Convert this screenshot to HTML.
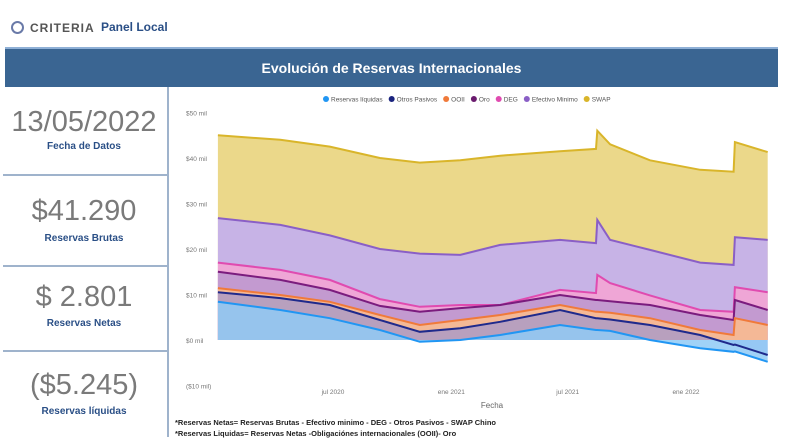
<!DOCTYPE html>
<html><head><meta charset="utf-8">
<style>
body{margin:0;width:800px;height:437px;background:#fff;font-family:"Liberation Sans",sans-serif;position:relative;overflow:hidden}
.abs{position:absolute}
.big{position:absolute;left:0;width:168px;text-align:center;color:#7a7a7a;font-size:29px;font-weight:300}
.lab{position:absolute;left:0;width:168px;text-align:center;color:#2a4f86;font-size:10px;font-weight:bold}
.hl{position:absolute;left:3px;width:164px;height:2px;background:#9fb3cc}
</style></head><body>
<div class="abs" style="left:11px;top:21px;width:9px;height:9px;border:2.5px solid #6a7aa8;border-radius:50%"></div>
<div class="abs" style="left:30px;top:21px;font-size:12px;color:#555;letter-spacing:1px;font-weight:bold">CRITERIA</div>
<div class="abs" style="left:101px;top:20px;font-size:12px;color:#2a4f86;font-weight:bold">Panel Local</div>
<div class="abs" style="left:5px;top:47px;width:773px;height:38px;background:#3a6592;border-top:2px solid #8fb0d6;color:#fff;font-size:14px;font-weight:bold;text-align:center;line-height:38px">Evolución de Reservas Internacionales</div>
<div class="abs" style="left:167px;top:87px;width:2px;height:350px;background:#9fb3cc"></div>
<div class="big" style="top:106px">13/05/2022</div>
<div class="lab" style="top:141px">Fecha de Datos</div>
<div class="hl" style="top:174px"></div>
<div class="big" style="top:195px">$41.290</div>
<div class="lab" style="top:233px">Reservas Brutas</div>
<div class="hl" style="top:265px"></div>
<div class="big" style="top:281px">$ 2.801</div>
<div class="lab" style="top:318px">Reservas Netas</div>
<div class="hl" style="top:350px"></div>
<div class="big" style="top:369px">($5.245)</div>
<div class="lab" style="top:406px">Reservas líquidas</div>
<div class="abs" style="left:175px;top:418px;font-size:7.5px;font-weight:bold;color:#222">*Reservas Netas= Reservas Brutas - Efectivo minimo - DEG - Otros Pasivos - SWAP Chino</div>
<div class="abs" style="left:175px;top:429px;font-size:7.5px;font-weight:bold;color:#222">*Reservas Liquidas= Reservas Netas -Obligaciónes internacionales (OOII)- Oro</div>
<svg id="chart" class="abs" style="left:0;top:0" width="800" height="437"></svg>
<script>
const dates=["2020-01-04","2020-04-10","2020-06-26","2020-09-12","2020-11-13","2021-01-15","2021-03-18","2021-06-19","2021-08-14","2021-08-16","2021-09-05","2021-11-06","2022-01-23","2022-03-16","2022-03-18","2022-05-08"];
const swap=[45,44,42.5,40,39,39.5,40.5,41.5,42,46,43,39.5,37.4,37,43.5,41.3];
const efectivo=[26.8,25.3,23,20,19,18.7,20.9,22,21.3,26.4,22,19.8,17,16.5,22.6,22];
const deg=[17,15.4,13.2,9,7.3,7.7,7.7,11,10.3,14.3,12.5,9.8,6.6,6.2,11.6,10.5];
const oro=[15,13.2,11,7.5,6.2,7,7.7,9.9,8.8,8.8,8.5,7.7,5.5,4.4,8.8,6.6];
const ooii=[11.4,9.9,8.4,5.5,3.3,4.4,5.5,7.7,6.2,6.2,6,4.8,2.2,1.1,4.8,3.3];
const otros=[10.5,9.2,7.7,4.4,1.8,2.6,4,6.6,4.8,4.8,4.5,3.3,1.1,-1.1,-1,-3.3];
const liquidas=[8.4,6.6,4.8,2.2,-0.4,0,1.1,3.3,2.2,2.2,2,0,-1.8,-2.6,-2.5,-4.8];
const yTicks=[50,40,30,20,10,0,-10];
const yTickLabels=["$50 mil","$40 mil","$30 mil","$20 mil","$10 mil","$0 mil","($10 mil)"];
const xTicks=["2020-07-01","2021-01-01","2021-07-01","2022-01-01"];
const xTickLabels=["jul 2020","ene 2021","jul 2021","ene 2022"];
const legendNames=["Reservas líquidas","Otros Pasivos","OOII","Oro","DEG","Efectivo Minimo","SWAP"];

const svg=document.getElementById('chart');const NS='http://www.w3.org/2000/svg';
const t0=Date.parse("2020-07-01"),msDay=86400000;
const X=d=>333+(Date.parse(d)-t0)/msDay*0.643;
const Y=v=>340-v*4.55;
function mk(tag,a){const e=document.createElementNS(NS,tag);for(const k in a)e.setAttribute(k,a[k]);svg.appendChild(e);return e;}
yTicks.forEach((v,i)=>{const t=mk('text',{x:186,y:Y(v)+3,'font-size':6.5,fill:'#777','font-family':'Liberation Sans'});t.textContent=yTickLabels[i];
});
xTicks.forEach((d,i)=>{const t=mk('text',{x:X(d),y:394,'font-size':6.5,fill:'#777','text-anchor':'middle','font-family':'Liberation Sans'});t.textContent=xTickLabels[i];
});
const xt=mk('text',{x:492,y:408,'font-size':8,fill:'#666','text-anchor':'middle','font-family':'Liberation Sans'});xt.textContent='Fecha';

const series=[
 {n:'swap',v:swap,f:'#ebd88a',l:'#d9b52a',o:1},
 {n:'efectivo-minimo',v:efectivo,f:'#c7b3e6',l:'#8a5fc6',o:1},
 {n:'deg',v:deg,f:'#efa6d6',l:'#e04bb0',o:1},
 {n:'oro',v:oro,f:'#c39ad0',l:'#7b1c7e',o:1},
 {n:'ooii',v:ooii,f:'#f4b896',l:'#f07a3a',o:1},
 {n:'otros-pasivos',v:otros,f:'#8f8fd8',l:'#1f2a8c',o:0.6},
 {n:'reservas-liquidas',v:liquidas,f:'#8fcaf6',l:'#2196f3',o:0.85}];
series.forEach(s=>{
 const pts=dates.map((d,i)=>X(d).toFixed(1)+','+Y(s.v[i]).toFixed(1));
 const a=mk('path',{d:'M'+X(dates[0])+','+Y(0)+' L'+pts.join(' L')+' L'+X(dates[dates.length-1])+','+Y(0)+'Z',fill:s.f,'fill-opacity':s.o});
 
});
series.forEach(s=>{
 const pts=dates.map((d,i)=>X(d).toFixed(1)+','+Y(s.v[i]).toFixed(1));
 const l=mk('path',{d:'M'+pts.join(' L'),fill:'none',stroke:s.l,'stroke-width':2});
 
});
const lcol=['#2196f3','#1a237e','#f07a3a','#6a1b6e','#e04bb0','#8a5fc6','#d9b52a'];
let lx=323;
legendNames.forEach((n,i)=>{
 const c=mk('circle',{cx:lx+3,cy:99,r:3,fill:lcol[i]});
 
 const t=mk('text',{x:lx+8,y:101.5,'font-size':6.5,fill:'#555','font-family':'Liberation Sans'});t.textContent=n;
 
 lx+=10+t.getComputedTextLength()+4;
});
</script>
</body></html>
